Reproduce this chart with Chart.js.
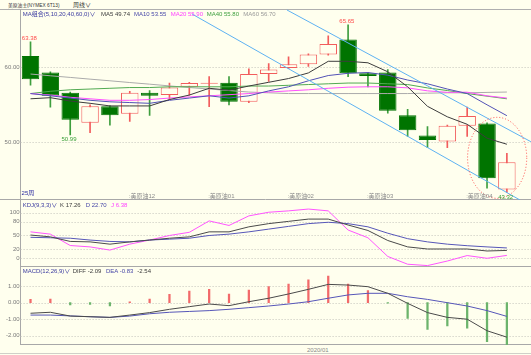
<!DOCTYPE html>
<html>
<head>
<meta charset="utf-8">
<script src="https://cdn.jsdelivr.net/npm/chart.js@4.4.1/dist/chart.umd.min.js"></script>
<style>
html, body { margin: 0; padding: 0; background: #FFFFEE; }
#wrap { position: relative; width: 531px; height: 355px; overflow: hidden; background: #FFFFEE;
  font-family: "Liberation Sans", "Noto Sans CJK SC", sans-serif; font-size: 6px; }
canvas { position: absolute; left: 0; }
.t { position: absolute; white-space: nowrap; line-height: 6px; }
.small { transform: scale(0.8); transform-origin: left center; }
.hline { position: absolute; left: 0; width: 531px; height: 0; border-top: 1px solid #AFAFAF; }
</style>
</head>
<body>
<div id="wrap">
  <div class="t small" style="left:8px;top:1.5px;color:#333">美原油主</div>
  <div class="t small" style="left:27px;top:1.5px;color:#333">(NYMEX 6T13)</div>
  <div class="t" style="left:73px;top:1.5px;color:#333">周线∨</div>
  <div class="hline" style="top:8.5px"></div>

  <canvas id="mainChart" width="531" height="191" style="top:9px"></canvas>
  <canvas id="kdjChart" width="531" height="67" style="top:200px"></canvas>
  <canvas id="macdChart" width="531" height="78" style="top:267px"></canvas>

  <div class="t" style="left:22.7px;top:11px;color:#3A3AA0">MA组合(5,10,20,40,60,0)∨</div>
  <div class="t" id="hMa5" style="left:101px;top:11px;color:#3C3C3C"></div>
  <div class="t" id="hMa10" style="left:134px;top:11px;color:#4848A8"></div>
  <div class="t" id="hMa20" style="left:170.7px;top:11px;color:#FF40FF"></div>
  <div class="t" id="hMa40" style="left:206.7px;top:11px;color:#40A040"></div>
  <div class="t" id="hMa60" style="left:243.3px;top:11px;color:#999"></div>

  <div class="t" style="left:22.7px;top:201.5px;color:#3A3AA0">KDJ(9,3,3)∨</div>
  <div class="t" id="hK" style="left:60px;top:201.5px;color:#3C3C3C"></div>
  <div class="t" id="hD" style="left:85.7px;top:201.5px;color:#4848A8"></div>
  <div class="t" id="hJ" style="left:111px;top:201.5px;color:#FF40FF"></div>

  <div class="t" style="left:22.7px;top:267.7px;color:#3A3AA0">MACD(12,26,9)∨</div>
  <div class="t" id="hDiff" style="left:72.7px;top:267.7px;color:#3C3C3C"></div>
  <div class="t" id="hDea" style="left:106px;top:267.7px;color:#4848A8"></div>
  <div class="t" id="hMacd" style="left:137.3px;top:267.7px;color:#3C3C3C"></div>

  <div class="t" style="left:307px;top:346.5px;color:#8A8A8A">2020/01</div>
  <div class="hline" style="top:353px;border-top-color:#D0D0C8"></div>
</div>

<script>
// weekly candles, NYMEX crude (main contract)
const weeks = ['2019/09/16','2019/09/23','2019/09/30','2019/10/07','2019/10/14','2019/10/21','2019/10/28',
  '2019/11/04','2019/11/11','2019/11/18','2019/11/25','2019/12/02','2019/12/09','2019/12/16','2019/12/23',
  '2019/12/30','2020/01/06','2020/01/13','2020/01/20','2020/01/27','2020/02/03','2020/02/10','2020/02/17',
  '2020/02/24','2020/03/02'];
const opens  = [61.5, 59.3, 56.6, 52.6, 54.8, 53.8, 56.6, 56.3, 57.4, 57.8, 57.95, 55.4, 59.1, 59.9, 60.4, 61.7, 63.7, 59.2, 59.3, 53.6, 50.9, 50.1, 52.2, 52.5, 43.7];
const highs  = [63.38, 59.4, 56.7, 55.0, 54.9, 56.8, 56.9, 57.9, 58.0, 58.75, 58.75, 59.8, 60.5, 61.4, 61.8, 64.2, 65.65, 59.3, 59.7, 54.4, 52.1, 52.3, 54.7, 52.6, 48.53];
const lows   = [57.6, 54.7, 50.99, 51.3, 52.3, 52.8, 53.6, 55.7, 56.3, 54.75, 55.0, 55.3, 58.1, 59.8, 60.1, 61.6, 58.75, 57.4, 53.9, 50.8, 49.3, 49.3, 50.8, 43.9, 43.32];
const closes = [58.4, 56.2, 53.0, 54.8, 53.6, 56.6, 56.2, 57.3, 57.9, 57.95, 55.4, 59.1, 59.7, 60.4, 61.7, 63.1, 59.2, 58.85, 54.2, 51.6, 50.3, 52.2, 53.5, 45.2, 47.33];

const ma5  = [55.8, 55.95, 55.5, 55.2, 54.85, 54.85, 54.85, 55.7, 56.3, 57.2, 56.95, 57.5, 58.0, 58.5, 59.25, 60.8, 60.8, 60.6, 59.4, 57.4, 54.8, 53.4, 52.4, 50.55, 49.74];
const ma10 = [56.5, 56.2, 55.9, 55.6, 55.4, 55.3, 55.2, 55.6, 55.9, 56.2, 55.9, 56.2, 56.85, 57.4, 58.2, 58.9, 59.2, 59.3, 58.95, 58.3, 57.8, 57.1, 56.5, 55.0, 53.55];
const ma20 = [56.5, 56.3, 56.0, 55.8, 55.6, 55.6, 55.7, 55.9, 56.05, 56.2, 56.35, 56.5, 56.7, 56.85, 57.0, 57.2, 57.35, 57.4, 57.4, 57.26, 56.86, 56.66, 56.68, 56.2, 55.90];
const ma40 = [56.5, 56.8, 57.0, 57.1, 57.2, 57.3, 57.3, 57.4, 57.4, 57.4, 57.4, 57.5, 57.5, 57.6, 57.7, 57.8, 57.9, 57.9, 57.8, 57.7, 57.25, 56.9, 56.5, 56.15, 55.80];
const ma60 = [59.1, 58.87, 58.65, 58.42, 58.2, 57.97, 57.75, 57.52, 57.3, 57.1, 56.9, 56.7, 56.6, 56.5, 56.5, 56.5, 56.5, 56.5, 56.5, 56.5, 56.55, 56.6, 56.6, 56.65, 56.70];

const kLine = [51, 47, 37, 36, 31, 36, 40, 44, 47, 58, 58, 69, 76, 81, 86, 86, 73, 61, 39, 25, 20.4, 20.4, 20.4, 16, 17.26];
const dLine = [46, 45, 44, 40, 37, 36, 40, 42, 44, 50, 53, 58, 64, 70, 76, 79, 76, 69, 55, 43, 36, 31, 27.6, 25, 22.70];
const jLine = [58, 53, 28, 25, 18, 31, 40, 50, 57, 82, 72, 93, 101, 104, 108, 104, 62, 45, 4, -13, -16, -6, 6, 0, 6.38];

const diffLine = [-0.64, -0.58, -0.81, -0.85, -0.89, -0.75, -0.60, -0.40, -0.24, -0.08, -0.18, 0.06, 0.27, 0.53, 0.81, 1.11, 1.07, 0.97, 0.57, -0.04, -0.60, -0.89, -1.00, -1.70, -2.09];
const deaLine  = [-0.75, -0.75, -0.80, -0.85, -0.89, -0.81, -0.67, -0.58, -0.53, -0.48, -0.40, -0.30, -0.20, -0.08, 0.06, 0.27, 0.47, 0.57, 0.57, 0.36, 0.20, 0.00, -0.20, -0.48, -0.83];
const macdHist = [0.20, 0.22, -0.14, -0.10, -0.20, 0.05, 0.22, 0.51, 0.71, 0.81, 0.53, 0.77, 0.97, 1.13, 1.38, 1.62, 1.13, 0.73, -0.03, -0.95, -1.62, -1.41, -1.55, -2.36, -2.54];

const priceTicks = [50, 60];
const kdjTicks = [0, 20, 50, 80, 100];
const macdTicks = [-2, -1, 0, 1];

// contract roll labels under the candles
const contractNames = ['美原油12', '美原油01', '美原油02', '美原油03', '美原油04'];
const contractStart = [5, 9, 13, 17, 22];
const highMarks = [0, 16];
const lowMarks = [2, 24];
// drawn channel (index, price) and the circled area
const channelLines = [[[8.14, 67.1], [24.66, 42.31]], [[12.92, 67.64], [25.21, 50.08]]];
const focusEllipse = { x: 23.51, y: 47.93, rx: 1.49, ry: 5.4 };

const BG = '#FFFFEE';
const UP = '#F25C5C';
const DOWN = '#007400';
const DOWN_WICK = '#3E9E3E';
const FONT = '"Liberation Sans","Noto Sans CJK SC",sans-serif';
const AXIS_W = 20.6;
const RIGHT_PAD = 14.2;

document.getElementById('hMa5').textContent = 'MA5 ' + ma5[ma5.length - 1].toFixed(2);
document.getElementById('hMa10').textContent = 'MA10 ' + ma10[ma10.length - 1].toFixed(2);
document.getElementById('hMa20').textContent = 'MA20 ' + ma20[ma20.length - 1].toFixed(2);
document.getElementById('hMa40').textContent = 'MA40 ' + ma40[ma40.length - 1].toFixed(2);
document.getElementById('hMa60').textContent = 'MA60 ' + ma60[ma60.length - 1].toFixed(2);
document.getElementById('hK').textContent = 'K ' + kLine[kLine.length - 1].toFixed(2);
document.getElementById('hD').textContent = 'D ' + dLine[dLine.length - 1].toFixed(2);
document.getElementById('hJ').textContent = 'J ' + jLine[jLine.length - 1].toFixed(2);
document.getElementById('hDiff').textContent = 'DIFF ' + diffLine[diffLine.length - 1].toFixed(2);
document.getElementById('hDea').textContent = 'DEA ' + deaLine[deaLine.length - 1].toFixed(2);
document.getElementById('hMacd').textContent = macdHist[macdHist.length - 1].toFixed(2);

// dotted horizontal grid across the whole width + panel bottom line
const panelGrid = {
    id: 'panelGrid',
    beforeDatasetsDraw(chart, args, opts){
        const {ctx, chartArea: a, scales: {y}} = chart;
        ctx.save();
        ctx.strokeStyle = '#C4C4BC';
        ctx.lineWidth = 1;
        ctx.setLineDash([1, 2]);
        opts.ticks.forEach(v => {
            const py = Math.round(y.getPixelForValue(v)) + 0.5;
            ctx.beginPath(); ctx.moveTo(a.left, py); ctx.lineTo(chart.width, py); ctx.stroke();
        });
        ctx.setLineDash([]);
        ctx.strokeStyle = '#A8A8A8';
        const by = a.bottom - 0.5;
        ctx.beginPath(); ctx.moveTo(opts.fullLine ? 0 : a.left, by); ctx.lineTo(chart.width, by); ctx.stroke();
        ctx.restore();
    }
};

const mainDeco = {
    id: 'mainDeco',
    afterDatasetsDraw(chart){
        const {ctx, chartArea: a, scales: {x, y}} = chart;
        ctx.save();
        ctx.beginPath();
        ctx.rect(a.left, a.top, chart.width - a.left, a.bottom - a.top);
        ctx.clip();

        ctx.strokeStyle = '#5EB2F2';
        ctx.lineWidth = 1;
        channelLines.forEach(([p, q]) => {
            ctx.beginPath();
            ctx.moveTo(x.getPixelForValue(p[0]), y.getPixelForValue(p[1]));
            ctx.lineTo(x.getPixelForValue(q[0]), y.getPixelForValue(q[1]));
            ctx.stroke();
        });

        const cx = x.getPixelForValue(focusEllipse.x), cy = y.getPixelForValue(focusEllipse.y);
        const rx = x.getPixelForValue(focusEllipse.x + focusEllipse.rx) - cx;
        const ry = cy - y.getPixelForValue(focusEllipse.y + focusEllipse.ry);
        ctx.strokeStyle = '#FF4D4D';
        ctx.setLineDash([1, 2]);
        ctx.beginPath(); ctx.ellipse(cx, cy, rx, ry, 0, 0, Math.PI * 2); ctx.stroke();
        ctx.setLineDash([]);

        ctx.font = '6px ' + FONT;
        ctx.textBaseline = 'middle';
        ctx.textAlign = 'left';
        const half = x.getPixelForValue(0.44) - x.getPixelForValue(0);
        ctx.fillStyle = '#FF4A4A';
        highMarks.forEach(i => ctx.fillText(highs[i].toFixed(2), x.getPixelForValue(i) - half, y.getPixelForValue(highs[i]) - 4));
        ctx.fillStyle = '#3AA03A';
        lowMarks.forEach(i => ctx.fillText(lows[i].toFixed(2), x.getPixelForValue(i) - half, y.getPixelForValue(lows[i]) + 4.5));

        ctx.fillStyle = '#8C8C8C';
        contractStart.forEach((i, k) => ctx.fillText(':' + contractNames[k], x.getPixelForValue(i) - 1, a.bottom - 4));
        ctx.fillStyle = '#2A2AA0';
        ctx.fillText(weeks.length + '周', a.left + 1, a.bottom - 7);
        ctx.restore();
    }
};

function yAxis(min, max, ticks, fmt){
    return {
        min, max,
        afterBuildTicks: s => { s.ticks = ticks.map(v => ({ value: v })); },
        afterFit: s => { s.width = AXIS_W; s.paddingTop = 0; s.paddingBottom = 0; },
        grid: { display: false, drawTicks: false },
        border: { display: true, color: '#A8A8A8' },
        ticks: { padding: 1, color: '#7A7A7A', font: { size: 6, family: FONT }, callback: fmt }
    };
}

const xAxis = { type: 'category', labels: weeks, offset: true, display: false, grid: { display: false } };
const baseOpts = {
    responsive: false, animation: false, devicePixelRatio: 1,
    layout: { padding: { left: 0, right: RIGHT_PAD, top: 0, bottom: 0 } },
    plugins: { legend: { display: false }, tooltip: { enabled: false } }
};

function maLine(label, data, color){
    return { type: 'line', label, data, borderColor: color, borderWidth: 1, pointRadius: 0, tension: 0, order: 0 };
}

// main candles
const isUp = opens.map((o, i) => closes[i] >= o);
new Chart(document.getElementById('mainChart').getContext('2d'), {
    type: 'bar',
    data: {
        labels: weeks,
        datasets: [
            maLine('MA5', ma5, '#3C3C3C'),
            maLine('MA10', ma10, '#5252B6'),
            maLine('MA20', ma20, '#FF50FF'),
            maLine('MA40', ma40, '#52AA52'),
            maLine('MA60', ma60, '#ABABAB'),
            {
                label: 'body', data: opens.map((o, i) => [Math.min(o, closes[i]), Math.max(o, closes[i])]),
                backgroundColor: isUp.map(u => u ? BG : DOWN), borderColor: isUp.map(u => u ? UP : DOWN),
                borderWidth: 1, borderSkipped: false, barPercentage: 0.88, categoryPercentage: 1, grouped: false, order: 1
            },
            {
                label: 'wick', data: lows.map((l, i) => [l, highs[i]]),
                backgroundColor: isUp.map(u => u ? UP : DOWN_WICK), borderWidth: 0,
                barThickness: 1, grouped: false, order: 2
            }
        ]
    },
    options: {
        ...baseOpts,
        plugins: { ...baseOpts.plugins, panelGrid: { ticks: priceTicks, fullLine: true } },
        scales: { x: xAxis, y: yAxis(42.31, 67.77, priceTicks, v => v.toFixed(2)) }
    },
    plugins: [panelGrid, mainDeco]
});

// KDJ
new Chart(document.getElementById('kdjChart').getContext('2d'), {
    type: 'line',
    data: {
        labels: weeks,
        datasets: [
            { label: 'K', data: kLine, borderColor: '#4A4A4A', borderWidth: 1, pointRadius: 0 },
            { label: 'D', data: dLine, borderColor: '#5656B8', borderWidth: 1, pointRadius: 0 },
            { label: 'J', data: jLine, borderColor: '#FF55FF', borderWidth: 1, pointRadius: 0 }
        ]
    },
    options: {
        ...baseOpts,
        plugins: { ...baseOpts.plugins, panelGrid: { ticks: kdjTicks } },
        scales: { x: xAxis, y: yAxis(-19.1, 127.85, kdjTicks, v => String(v)) }
    },
    plugins: [panelGrid]
});

// MACD
new Chart(document.getElementById('macdChart').getContext('2d'), {
    type: 'bar',
    data: {
        labels: weeks,
        datasets: [
            { type: 'line', label: 'DIFF', data: diffLine, borderColor: '#4A4A4A', borderWidth: 1, pointRadius: 0, order: 0 },
            { type: 'line', label: 'DEA', data: deaLine, borderColor: '#5656B8', borderWidth: 1, pointRadius: 0, order: 0 },
            { label: 'MACD', data: macdHist, backgroundColor: macdHist.map(v => v >= 0 ? '#F26A6A' : '#6CB46C'),
              barThickness: 1.6, grouped: false, order: 1 }
        ]
    },
    options: {
        ...baseOpts,
        plugins: { ...baseOpts.plugins, panelGrid: { ticks: macdTicks } },
        scales: { x: xAxis, y: yAxis(-2.564, 2.164, macdTicks, v => v.toFixed(2)) }
    },
    plugins: [panelGrid]
});
</script>
</body>
</html>
